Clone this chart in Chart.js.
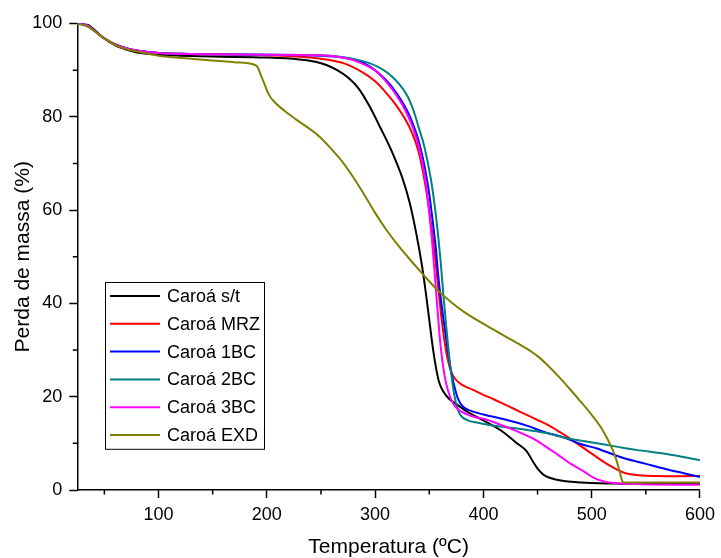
<!DOCTYPE html>
<html>
<head>
<meta charset="utf-8">
<script src="https://cdn.jsdelivr.net/npm/chart.js@4"></script>
<style>
  html, body { margin: 0; padding: 0; background: #fff; }
  canvas { display: block; }
</style>
</head>
<body>
<canvas id="tga" width="721" height="558"></canvas>
<script>
// TGA curves: mass (%) against temperature (ºC)
const seriesNames = ['Caroá s/t', 'Caroá MRZ', 'Caroá 1BC', 'Caroá 2BC', 'Caroá 3BC', 'Caroá EXD'];
const seriesColors = ['#000000', '#ff0000', '#0000ff', '#008080', '#ff00ff', '#808000'];

const tempST = [25, 35, 40, 50, 60, 70, 80, 90, 100, 120, 150, 200, 230, 245, 255, 265, 275, 285, 295, 305, 315, 325, 332, 338, 343, 347, 350, 353, 356, 359, 363, 368, 375, 385, 400, 416, 430, 440, 446, 451, 456, 468, 490, 520, 600];
const massST = [100, 99.7, 98.8, 96.8, 95.3, 94.4, 93.8, 93.5, 93.3, 93.1, 92.9, 92.7, 92.3, 91.8, 91.1, 90.0, 88.4, 86.0, 82.2, 77.6, 72.8, 67.0, 61.5, 55.0, 48.5, 42.0, 36.5, 31.0, 26.5, 23.2, 21.1, 19.6, 18.4, 16.8, 14.9, 12.8, 10.2, 8.3, 6.0, 4.3, 3.2, 2.2, 1.6, 1.4, 1.3];

const tempMRZ = [25, 35, 40, 50, 60, 70, 80, 90, 100, 120, 150, 200, 248, 272, 290, 300, 310, 320, 328, 334, 340, 345, 349, 353, 356, 358.5, 361, 364, 367, 370, 374, 380, 390, 400, 410, 420, 430, 440, 450, 460, 470, 480, 490, 500, 510, 520, 530, 541, 560, 580, 600];
const massMRZ = [100, 99.5, 98.6, 96.8, 95.5, 94.7, 94.2, 93.9, 93.7, 93.5, 93.4, 93.2, 92.5, 91.4, 89.3, 87.6, 85.2, 82.3, 79.4, 76.6, 72.6, 67.2, 61.5, 54.5, 48.5, 43.0, 37.5, 32.0, 28.0, 25.5, 23.8, 22.6, 21.5, 20.4, 19.4, 18.3, 17.2, 16.1, 15.0, 13.9, 12.5, 11.0, 9.4, 7.8, 6.2, 4.8, 3.7, 3.2, 3.0, 2.95, 3.0];

const temp1BC = [25, 35, 40, 50, 60, 70, 80, 90, 100, 120, 150, 200, 250, 270, 284, 295, 305, 315, 325, 333, 340, 346, 350, 353, 356, 358.5, 361.5, 365, 368, 371, 374, 377, 381, 388, 400, 420, 440, 458, 470, 492, 505, 520, 530, 550, 568, 585, 600];
const mass1BC = [100, 99.5, 98.6, 96.8, 95.5, 94.7, 94.2, 93.9, 93.7, 93.5, 93.4, 93.3, 93.1, 92.7, 92.0, 90.8, 89.0, 86.6, 83.2, 79.6, 75.0, 69.0, 63.5, 58.0, 52.0, 45.5, 39.5, 33.5, 28.5, 24.5, 21.5, 19.3, 17.9, 17.0, 16.2, 15.1, 13.8, 12.3, 11.6, 9.7, 8.9, 7.6, 6.8, 5.6, 4.5, 3.6, 2.8];

const temp2BC = [25, 35, 40, 50, 60, 70, 80, 90, 100, 120, 150, 200, 250, 284, 302.7, 318, 330.2, 336.4, 340, 345.5, 351.6, 355, 358, 360.5, 363, 365.5, 368, 370.5, 373, 376, 379, 385, 395, 407, 437, 458, 477, 495, 523, 541, 569, 600];
const mass2BC = [100, 99.5, 98.6, 96.8, 95.5, 94.7, 94.2, 93.9, 93.7, 93.5, 93.4, 93.3, 93.2, 92.2, 90.7, 88.1, 84.3, 80.7, 77.9, 73.6, 66.5, 61.0, 55.0, 49.0, 42.0, 35.5, 29.5, 24.5, 20.5, 17.5, 16.0, 15.0, 14.4, 13.9, 13.0, 12.2, 11.1, 10.4, 9.3, 8.6, 7.7, 6.4];

const temp3BC = [25, 35, 40, 50, 60, 70, 80, 90, 100, 120, 150, 200, 250, 270, 285, 300, 310, 320, 328, 335, 341, 346, 349.5, 352.5, 355, 357.5, 360, 362.5, 365, 368, 373, 385, 404, 420, 437, 450, 462, 468, 480, 492, 502, 512, 520, 540, 600];
const mass3BC = [100, 99.5, 98.6, 96.8, 95.5, 94.7, 94.2, 93.9, 93.7, 93.5, 93.4, 93.3, 93.2, 92.7, 91.7, 89.9, 87.6, 84.5, 81.3, 77.6, 73.0, 67.0, 60.5, 53.5, 46.5, 39.0, 32.0, 27.0, 23.5, 20.8, 18.2, 16.2, 15.0, 13.6, 12.0, 10.5, 8.6, 7.7, 5.7, 4.1, 2.6, 1.8, 1.5, 1.3, 1.1];

const tempEXD = [25, 35, 40, 50, 60, 70, 80, 90, 100, 116, 153, 170, 188, 191.4, 194.4, 197.5, 202, 208.2, 217.4, 226.6, 248, 260, 270, 280, 290, 300, 310, 320, 330, 342, 357, 370, 382, 413, 440, 450, 460, 470, 480, 490, 500, 508, 514, 519, 523, 526, 528.5, 531, 600];
const massEXD = [100, 99.3, 98.5, 96.8, 95.4, 94.5, 94.0, 93.5, 93.1, 92.7, 92.0, 91.7, 91.2, 90.7, 89.0, 87.2, 84.7, 82.9, 81.1, 79.5, 75.9, 73.0, 70.3, 67.0, 63.3, 59.4, 55.9, 52.8, 50.0, 46.8, 43.0, 40.3, 38.2, 33.9, 30.3, 28.7, 26.6, 24.2, 21.6, 18.9, 16.1, 13.6, 11.2, 8.8, 6.3, 3.8, 1.8, 1.6, 1.6];

const temps = [tempST, tempMRZ, temp1BC, temp2BC, temp3BC, tempEXD];
const masses = [massST, massMRZ, mass1BC, mass2BC, mass3BC, massEXD];

const FONT = '"Liberation Sans", Arial, sans-serif';

function toPoints(xs, ys) {
    return xs.map((x, i) => ({ x: x, y: ys[i] }));
}

const datasets = seriesNames.map((name, i) => ({
    label: name,
    data: toPoints(temps[i], masses[i]),
    borderColor: seriesColors[i],
    backgroundColor: seriesColors[i],
    borderWidth: 2,
    pointRadius: 0,
    fill: false,
    cubicInterpolationMode: 'monotone',
    order: seriesNames.length - i   // later series drawn on top
}));

// short minor ticks (the unlabeled ones) + boxed legend
const extras = {
    id: 'extras',
    afterDraw(chart) {
        const ctx = chart.ctx;
        const xs = chart.scales.x, ys = chart.scales.y;
        ctx.save();
        ctx.strokeStyle = '#000';
        ctx.lineWidth = 1.5;
        ctx.beginPath();
        xs.ticks.forEach(t => {
            if (t.value % 100 !== 0) {
                const px = xs.getPixelForValue(t.value);
                ctx.moveTo(px, xs.top);
                ctx.lineTo(px, xs.top + 4.5);
            }
        });
        ys.ticks.forEach(t => {
            if (t.value % 20 !== 0) {
                const py = ys.getPixelForValue(t.value);
                ctx.moveTo(ys.right, py);
                ctx.lineTo(ys.right - 4.5, py);
            }
        });
        ctx.stroke();

        // legend
        const sets = chart.data.datasets;
        ctx.font = '18px ' + FONT;
        const widest = Math.max(...sets.map(d => ctx.measureText(d.label).width));
        const left = 105, top = 282, rowH = 27.8;
        const w = 62 + widest + 4;
        const h = rowH * sets.length;
        ctx.fillStyle = '#fff';
        ctx.fillRect(left, top, w, h);
        ctx.lineWidth = 1;
        ctx.strokeRect(left + 0.5, top + 0.5, w, h);
        ctx.textBaseline = 'middle';
        sets.forEach((d, i) => {
            const cy = top + 14 + i * rowH;
            ctx.strokeStyle = d.borderColor;
            ctx.lineWidth = 2;
            ctx.beginPath();
            ctx.moveTo(110, cy);
            ctx.lineTo(160, cy);
            ctx.stroke();
            ctx.fillStyle = '#000';
            ctx.fillText(d.label, 167, cy + 1);
        });
        ctx.restore();
    }
};

const config = {
    type: 'line',
    data: { datasets: datasets },
    options: {
        responsive: false,
        animation: false,
        events: [],
        layout: {
            padding: { left: 11, right: 17, top: 23.5, bottom: 0 }
        },
        scales: {
            x: {
                type: 'linear',
                min: 25,
                max: 600,
                afterFit: s => { s.height = 68; },
                border: { color: '#000', width: 1.5 },
                grid: {
                    drawOnChartArea: false,
                    tickLength: 8,
                    tickWidth: 1.5,
                    tickColor: c => (c.tick && c.tick.value % 100 === 0) ? '#000' : 'rgba(0,0,0,0)'
                },
                ticks: {
                    stepSize: 50,
                    includeBounds: false,
                    autoSkip: false,
                    maxRotation: 0,
                    padding: 6,
                    color: '#000',
                    font: { family: FONT, size: 18 },
                    callback: v => (v % 100 === 0 ? String(v) : '')
                },
                title: {
                    display: true,
                    text: 'Temperatura (ºC)',
                    color: '#000',
                    font: { family: FONT, size: 21, lineHeight: 1 },
                    padding: 0
                }
            },
            y: {
                min: 0,
                max: 100,
                afterFit: s => { s.width = 66.3; },
                border: { color: '#000', width: 1.5 },
                grid: {
                    drawOnChartArea: false,
                    tickLength: 8,
                    tickWidth: 1.5,
                    tickColor: c => (c.tick && c.tick.value % 20 === 0) ? '#000' : 'rgba(0,0,0,0)'
                },
                ticks: {
                    stepSize: 10,
                    autoSkip: false,
                    padding: 7,
                    color: '#000',
                    font: { family: FONT, size: 18 },
                    callback: v => (v % 20 === 0 ? String(v) : '')
                },
                title: {
                    display: true,
                    text: 'Perda de massa (%)',
                    color: '#000',
                    font: { family: FONT, size: 21, lineHeight: 1.2 },
                    padding: 0
                }
            }
        },
        plugins: {
            legend: { display: false },
            tooltip: { enabled: false }
        }
    },
    plugins: [extras]
};

new Chart(document.getElementById('tga'), config);
</script>
</body>
</html>
